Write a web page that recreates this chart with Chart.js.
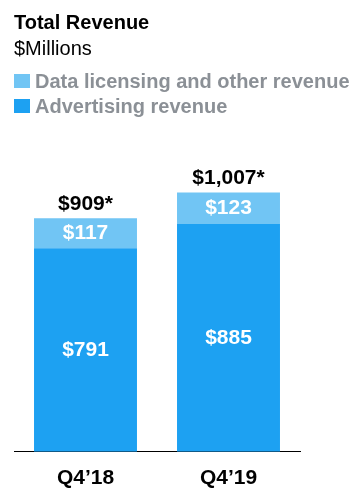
<!DOCTYPE html>
<html>
<head>
<meta charset="utf-8">
<script src="https://cdn.jsdelivr.net/npm/chart.js@4"></script>
<style>
  html, body { margin: 0; padding: 0; background: #fff; }
  body { width: 364px; height: 497px; position: relative; overflow: hidden; font-family: 'Liberation Sans', Arial, sans-serif; }
  #wrap { position: absolute; left: 0; top: 0; width: 364px; height: 512px; }
  .txt { position: absolute; left: 14px; font-size: 20px; line-height: 20px; white-space: nowrap; }
  .title { top: 12px; font-weight: bold; color: #000; }
  .sub { top: 38px; color: #000; }
  .leg { left: 35px; font-weight: bold; color: #8b9096; }
  .sw { position: absolute; left: 14px; width: 16px; height: 14px; }
</style>
</head>
<body>
<div id="wrap"><canvas id="chart"></canvas></div>
<div class="txt title">Total Revenue</div>
<div class="txt sub">$Millions</div>
<div class="sw" style="top:74px; background:#71c5f4"></div>
<div class="txt leg" style="top:71px">Data licensing and other revenue</div>
<div class="sw" style="top:99px; background:#1da1f2"></div>
<div class="txt leg" style="top:96px">Advertising revenue</div>
<script>
const CATEGORIES = ["Q4\u201918", "Q4\u201919"],
      ADVERTISING = [791, 885],
      DATA_LICENSING = [117, 123],
      TOTALS = [909, 1007];

const LIGHT = '#71c5f4', DARK = '#1da1f2', FONT = "'Liberation Sans', Arial, sans-serif";
const money = v => '$' + v.toLocaleString('en-US');

// values inside each segment + totals above stacks
const valueLabels = {
    id: 'valueLabels',
    afterDatasetsDraw(chart) {
        const ctx = chart.ctx;
        ctx.save();
        ctx.font = `bold 21px ${FONT}`;
        ctx.textAlign = 'center';
        chart.data.datasets.forEach((ds, i) => {
            chart.getDatasetMeta(i).data.forEach((bar, j) => {
                ctx.fillStyle = '#fff';
                ctx.textBaseline = 'middle';
                ctx.fillText(money(ds.data[j]), bar.x, (bar.y + bar.base) / 2);
            });
        });
        const top = chart.getDatasetMeta(chart.data.datasets.length - 1).data;
        ctx.fillStyle = '#000';
        ctx.textBaseline = 'alphabetic';
        top.forEach((bar, j) => ctx.fillText(money(TOTALS[j]) + '*', bar.x, bar.y - 8.5));
        ctx.restore();
    }
};

new Chart(document.getElementById('chart'), {
    type: 'bar',
    data: {
        labels: CATEGORIES,
        datasets: [
            { label: 'Advertising revenue', data: ADVERTISING, backgroundColor: DARK, borderWidth: 0 },
            { label: 'Data licensing and other revenue', data: DATA_LICENSING, backgroundColor: LIGHT, borderWidth: 0 }
        ]
    },
    options: {
        responsive: true, maintainAspectRatio: false, animation: false,
        datasets: { bar: { barPercentage: 0.72, categoryPercentage: 1 } },
        layout: { padding: { left: 14, right: 64, top: 143, bottom: 7 } },
        plugins: { legend: { display: false }, tooltip: { enabled: false } },
        scales: {
            x: {
                stacked: true,
                grid: { display: false, drawTicks: false },
                border: { display: true, color: '#000', width: 1 },
                ticks: { color: '#000', padding: 14, font: { family: FONT, size: 21, weight: 'bold' } }
            },
            y: { stacked: true, display: false, min: 0, max: 1200 }
        }
    },
    plugins: [valueLabels]
});
</script>
</body>
</html>
